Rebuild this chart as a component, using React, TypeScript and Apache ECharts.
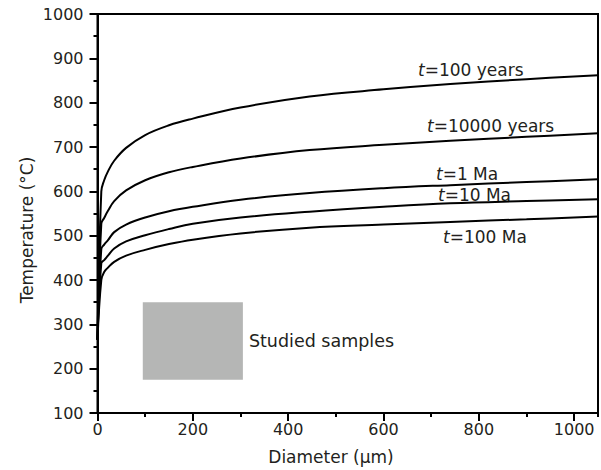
import React, { useEffect, useRef } from "react";
import * as echarts from "echarts";

const diameters = [0, 8, 14, 22, 35, 60, 100, 150, 200, 300, 445, 600, 740, 900, 1050];
const t100years = [265, 600, 625, 645, 669, 698, 727, 749, 764, 789, 814, 830, 842, 853, 862];
const t10000years = [265, 527, 540, 556, 578, 602, 625, 643, 655, 674, 693, 705, 714, 723, 731];
const t1Ma = [265, 470, 480, 490, 508, 525, 541, 555, 565, 581, 596, 607, 614, 621, 627];
const t10Ma = [265, 438, 445, 455, 471, 487, 501, 515, 527, 541, 554, 565, 573, 578, 582];
const t100Ma = [265, 400, 418, 428, 441, 455, 468, 481, 491, 505, 518, 525, 531, 537, 543];

const seriesNames = ["t=100 years", "t=10000 years", "t=1 Ma", "t=10 Ma", "t=100 Ma"];
const seriesValues = [t100years, t10000years, t1Ma, t10Ma, t100Ma];

const studiedX = [95, 305];
const studiedY = [175, 350];

const FONT = "DejaVu Sans";
const TXT = "#231f20";

export default function App() {
  const ref = useRef<HTMLDivElement>(null);
  useEffect(() => {
    const chart = echarts.init(ref.current!, null, { renderer: "svg" });
    const labelPos = [
      [418, 70],
      [427, 126],
      [436, 174],
      [438, 195],
      [443, 237],
    ];
    const series: any[] = seriesValues.map((vals, i) => ({
      type: "line",
      name: seriesNames[i],
      data: diameters.map((d, j) => [d, vals[j]]),
      showSymbol: false,
      smooth: 0.4,
      lineStyle: { color: "#000", width: 2 },
      xAxisIndex: 0,
      yAxisIndex: 0,
    }));
    series[4].markArea = {
      silent: true,
      itemStyle: { color: "#b5b6b5" },
      label: {
        show: true,
        position: "right",
        distance: 6,
        formatter: "Studied samples",
        color: TXT,
        fontFamily: FONT,
        fontSize: 17.5,
      },
      data: [[{ coord: [studiedX[0], studiedY[0]] }, { coord: [studiedX[1], studiedY[1]] }]],
    };
    const plain = (v: number) => String(v);
    chart.setOption({
      animation: false,
      grid: {
        left: 97.5,
        right: 3,
        top: 14,
        bottom: 57,
        show: true,
        borderColor: "#000",
        borderWidth: 2,
        backgroundColor: "transparent",
      },
      xAxis: [
        {
          type: "value",
          position: "bottom",
          min: 0,
          max: 1050,
          interval: 200,
          splitLine: { show: false },
          axisLine: { lineStyle: { color: "#000", width: 2 } },
          axisTick: { length: 8, lineStyle: { color: "#000", width: 2 } },
          axisLabel: {
            margin: 8,
            color: TXT,
            fontFamily: FONT,
            fontSize: 16,
            showMaxLabel: false,
            formatter: plain,
          },
        },
        {
          type: "value",
          position: "bottom",
          min: 0,
          max: 1050,
          interval: 100,
          splitLine: { show: false },
          axisLine: { show: false },
          axisTick: { length: 4, lineStyle: { color: "#000", width: 2 } },
          axisLabel: { show: false },
        },
      ],
      yAxis: {
        type: "value",
        min: 100,
        max: 1000,
        interval: 100,
        splitLine: { show: false },
        axisLine: { lineStyle: { color: "#000", width: 2 } },
        axisTick: { length: 8, lineStyle: { color: "#000", width: 2 } },
        minorTick: { show: true, splitNumber: 2, length: 4, lineStyle: { color: "#000", width: 2 } },
        axisLabel: { margin: 14, color: TXT, fontFamily: FONT, fontSize: 16, formatter: plain },
      },
      series,
      graphic: [
        {
          type: "text",
          x: 27,
          y: 230,
          rotation: Math.PI / 2,
          style: {
            text: "Temperature (°C)",
            fill: TXT,
            font: `17px "${FONT}"`,
            align: "center",
            verticalAlign: "middle",
          },
        },
        {
          type: "text",
          x: 331,
          y: 457,
          style: {
            text: "Diameter (μm)",
            fill: TXT,
            font: `17px "${FONT}"`,
            align: "center",
            verticalAlign: "middle",
          },
        },
        ...seriesNames.map((name, i) => ({
          type: "text",
          x: labelPos[i][0],
          y: labelPos[i][1],
          style: {
            text: "{i|t}{n|" + name.slice(1) + "}",
            verticalAlign: "middle",
            align: "left",
            rich: {
              i: { fontFamily: FONT, fontSize: 17, fontStyle: "italic", fill: TXT, color: TXT },
              n: { fontFamily: FONT, fontSize: 17, fill: TXT, color: TXT },
            },
          },
        })),
      ],
    });
    return () => chart.dispose();
  }, []);
  return (
    <div
      ref={ref}
      style={{ position: "fixed", left: 0, top: 0, width: 601, height: 470, background: "#fff" }}
    />
  );
}
